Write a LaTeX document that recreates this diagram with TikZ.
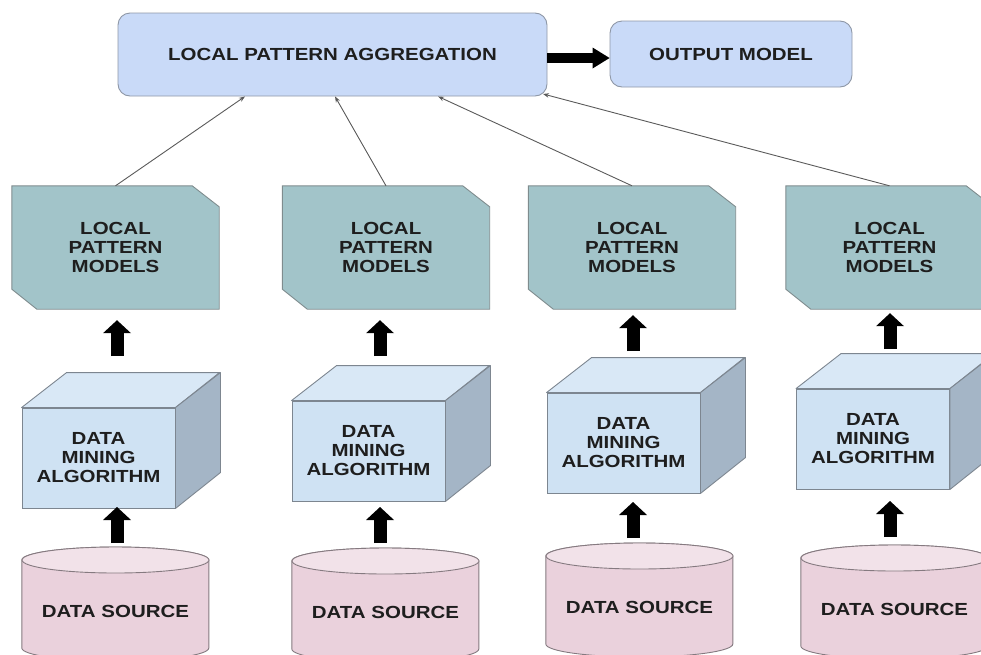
\documentclass[tikz,border=0pt]{standalone}
\usepackage{fontspec}
\newfontfamily\lblfont{Liberation Sans}[FakeStretch=1.17]
\usetikzlibrary{arrows.meta,backgrounds}

\definecolor{aggfill}{HTML}{C9DAF8}
\definecolor{aggline}{HTML}{8E97A6}
\definecolor{lpmfill}{HTML}{A2C4C9}
\definecolor{lpmline}{HTML}{7F8C8E}
\definecolor{cubefront}{HTML}{CFE2F3}
\definecolor{cubetopc}{HTML}{D9E8F6}
\definecolor{cubeside}{HTML}{A4B5C6}
\definecolor{cubeline}{HTML}{7D8690}
\definecolor{cylbodyc}{HTML}{EAD1DC}
\definecolor{cyltopc}{HTML}{F2E2E9}
\definecolor{cylline}{HTML}{857A80}
\definecolor{txt}{HTML}{1E1E1E}
\definecolor{wire}{HTML}{5A5A5A}

\begin{document}
\begin{tikzpicture}[x=1pt,y=-1pt,
  lbl/.style={font=\lblfont\bfseries\fontsize{17.5}{19}\selectfont, text=txt, align=center},
  roundbox/.style={lbl, draw=aggline, line width=0.9pt, fill=aggfill, rounded corners=12pt},
  lpmnode/.style={lbl, minimum width=207pt, minimum height=123pt, inner sep=0pt},
  lpmshape/.style={draw=lpmline, line width=0.9pt, fill=lpmfill},
  cubenode/.style={lbl, draw=cubeline, line width=0.9pt, fill=cubefront,
    minimum width=153pt, minimum height=100pt, inner sep=0pt},
  cubetop/.style={draw=cubeline, line width=0.9pt, fill=cubetopc, line join=round},
  cuberight/.style={draw=cubeline, line width=0.9pt, fill=cubeside, line join=round},
  cylnode/.style={lbl, anchor=north, minimum width=187pt, minimum height=128pt, inner sep=0pt},
  cylbody/.style={draw=cylline, line width=0.9pt, fill=cylbodyc},
  cyltop/.style={draw=cylline, line width=0.9pt, fill=cyltopc},
  bigarrow/.style={line width=13pt, black, -{Triangle[width=28pt,length=13pt,line width=0pt]}},
  sidearrow/.style={line width=10.5pt, black, -{Triangle[width=21pt,length=17pt,line width=0pt]}},
  wirearrow/.style={draw=wire, line width=0.9pt, -{Stealth[length=6pt,width=4.5pt]}}
]
\useasboundingbox (0,0) rectangle (981,654);

% top row: aggregation and output
\node[roundbox, minimum width=429pt, minimum height=83pt] (agg) at (332.5,54.5) {LOCAL PATTERN AGGREGATION};
\node[roundbox, minimum width=242pt, minimum height=66pt] (out) at (731,54) {OUTPUT MODEL};
\draw[sidearrow] ([yshift=-3.5pt]agg.east) -- ([yshift=-3.5pt]agg.east -| out.west);

% one column per data source:
% index / model x / cube x / cube top / source x / source top / arrow offset / upper gap / lower gap
\foreach \i/\lx/\cfx/\ct/\cyx/\cyt/\dx/\ug/\lg in {
  1/115.5/98.5/408/115.5/547/1.5/11/4,
  2/386/368.5/401/385.5/548/-6/11/5,
  3/632/623.5/393/639.5/543/1/6/5,
  4/889.5/873/389/894.5/545/0.5/4/8}{
  % local pattern models (cut-corner box)
  \node[lpmnode] (lpm\i) at (\lx,247.5) {LOCAL\\PATTERN\\MODELS};
  \begin{scope}[on background layer]
    \draw[lpmshape] (lpm\i.north west) -- ([xshift=-27pt]lpm\i.north east)
      -- ([yshift=-21pt]lpm\i.north east) -- (lpm\i.south east)
      -- ([xshift=25pt]lpm\i.south west) -- ([yshift=20pt]lpm\i.south west) -- cycle;
  \end{scope}
  % data mining algorithm (cube)
  \node[cubenode] (cube\i) at (\cfx,\ct+50) {DATA\\MINING\\ALGORITHM};
  \draw[cubetop] (cube\i.north west) -- ++(45,-35) -- ++(153,0) -- (cube\i.north east) -- cycle;
  \draw[cuberight] (cube\i.north east) -- ++(45,-35) -- ++(0,100) -- (cube\i.south east) -- cycle;
  % data source (cylinder)
  \node[cylnode] (cyl\i) at (\cyx,\cyt) {DATA SOURCE};
  \begin{scope}[on background layer]
    \draw[cylbody] ([yshift=-13pt]cyl\i.north west) -- ++(0,88)
      arc[start angle=180, end angle=0, x radius=93.5, y radius=13]
      -- ++(0,-88)
      arc[start angle=0, end angle=-180, x radius=93.5, y radius=13] -- cycle;
    \draw[cyltop] ([yshift=-13pt]cyl\i.north) ellipse [x radius=93.5, y radius=13];
  \end{scope}
  % block arrows between the stages
  \path (lpm\i.south) ++(\dx,0) coordinate (ax\i);
  \draw[bigarrow] (ax\i |- cyl\i.north) ++(0,-\lg) -- ++(0,-36);
  \draw[bigarrow] (ax\i |- lpm\i.south) ++(0,\ug+36) -- ++(0,-36);
}

% thin links from each model up to the aggregation
\draw[wirearrow] (lpm1.north) -- ([xshift=-87.5pt]agg.south);
\draw[wirearrow] (lpm2.north) -- ([xshift=2.5pt]agg.south);
\draw[wirearrow] (lpm3.north) -- ([xshift=105.5pt]agg.south);
\draw[wirearrow] (lpm4.north) -- ([xshift=210.5pt,yshift=2.5pt]agg.south);
\end{tikzpicture}
\end{document}
